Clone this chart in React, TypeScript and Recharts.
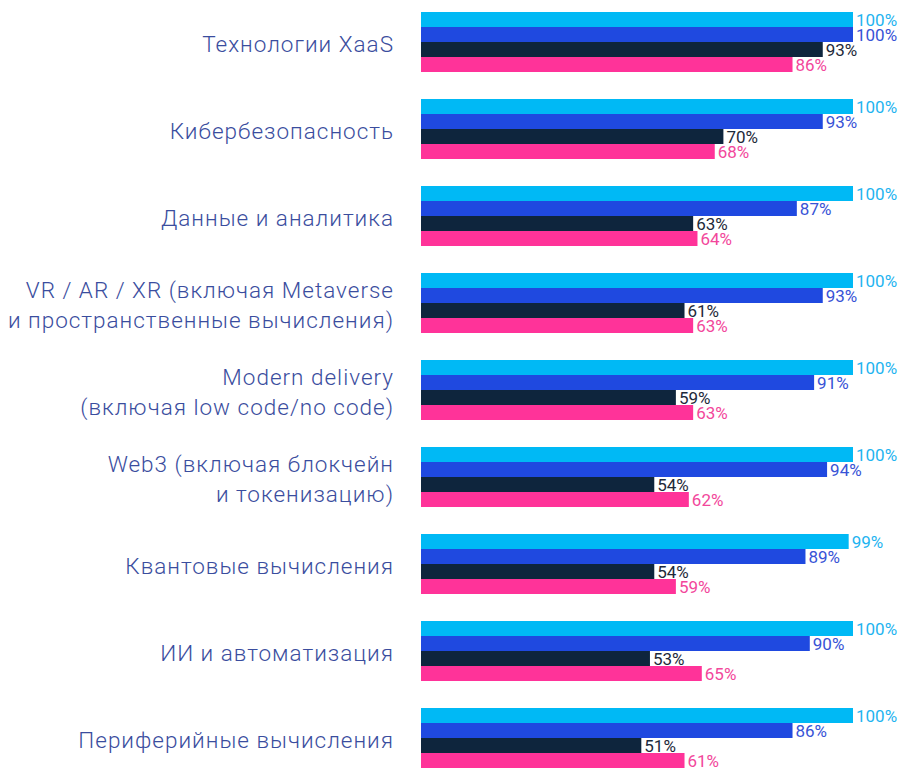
import React from 'react'
import { BarChart, Bar, XAxis, YAxis, LabelList } from 'recharts'

const categories = [
  'Технологии XaaS',
  'Кибербезопасность',
  'Данные и аналитика',
  'VR / AR / XR (включая Metaverse\nи пространственные вычисления)',
  'Modern delivery\n(включая low code/no code)',
  'Web3 (включая блокчейн\nи токенизацию)',
  'Квантовые вычисления',
  'ИИ и автоматизация',
  'Периферийные вычисления',
]

const seriesA = [100, 100, 100, 100, 100, 100, 99, 100, 100]
const seriesB = [100, 93, 87, 93, 91, 94, 89, 90, 86]
const seriesC = [93, 70, 63, 61, 59, 54, 54, 53, 51]
const seriesD = [86, 68, 64, 63, 63, 62, 59, 65, 61]

const data = categories.map((name, i) => ({
  name,
  a: seriesA[i],
  b: seriesB[i],
  c: seriesC[i],
  d: seriesD[i],
}))

const FONT = 'Roboto, "Noto Sans", sans-serif'

const CategoryTick = (props: any) => {
  const { x, y, payload } = props
  const lines = String(payload.value).split('\n')
  const first = y + 10 - 15 * (lines.length - 1)
  return (
    <text
      x={x - 27}
      y={first}
      textAnchor="end"
      fill="#3a4d9e"
      fontSize={22.5}
      fontWeight={300}
      letterSpacing={1}
      fontFamily={FONT}
    >
      {lines.map((l, i) => (
        <tspan key={i} x={x - 27} y={first + i * 30}>
          {l}
        </tspan>
      ))}
    </text>
  )
}

const pct = (v: any) => `${v}%`

const App: React.FC = () => {
  return (
    <div style={{ position: 'absolute', left: 0, top: -2 }}>
      <BarChart
        width={903}
        height={783}
        data={data}
        layout="vertical"
        margin={{ top: 0, right: 50, bottom: 0, left: 0 }}
        barCategoryGap={14}
        barGap={0}
      >
        <XAxis type="number" domain={[0, 100]} hide />
        <YAxis
          type="category"
          dataKey="name"
          width={421}
          axisLine={false}
          tickLine={false}
          tickSize={0}
          tickMargin={0}
          interval={0}
          tick={<CategoryTick />}
        />
        <Bar dataKey="a" fill="#00b9f5" isAnimationActive={false}>
          <LabelList dataKey="a" position="right" offset={3} formatter={pct}
            fill="#1fb4f0" fontSize={17} fontWeight={400} fontFamily={FONT} />
        </Bar>
        <Bar dataKey="b" fill="#1f49e0" isAnimationActive={false}>
          <LabelList dataKey="b" position="right" offset={3} formatter={pct}
            fill="#3853d6" fontSize={17} fontWeight={400} fontFamily={FONT} />
        </Bar>
        <Bar dataKey="c" fill="#0e253d" isAnimationActive={false}>
          <LabelList dataKey="c" position="right" offset={3} formatter={pct}
            fill="#1e2a3a" fontSize={17} fontWeight={400} fontFamily={FONT} />
        </Bar>
        <Bar dataKey="d" fill="#ff3399" isAnimationActive={false}>
          <LabelList dataKey="d" position="right" offset={3} formatter={pct}
            fill="#f2479b" fontSize={17} fontWeight={400} fontFamily={FONT} />
        </Bar>
      </BarChart>
    </div>
  )
}

export default App
